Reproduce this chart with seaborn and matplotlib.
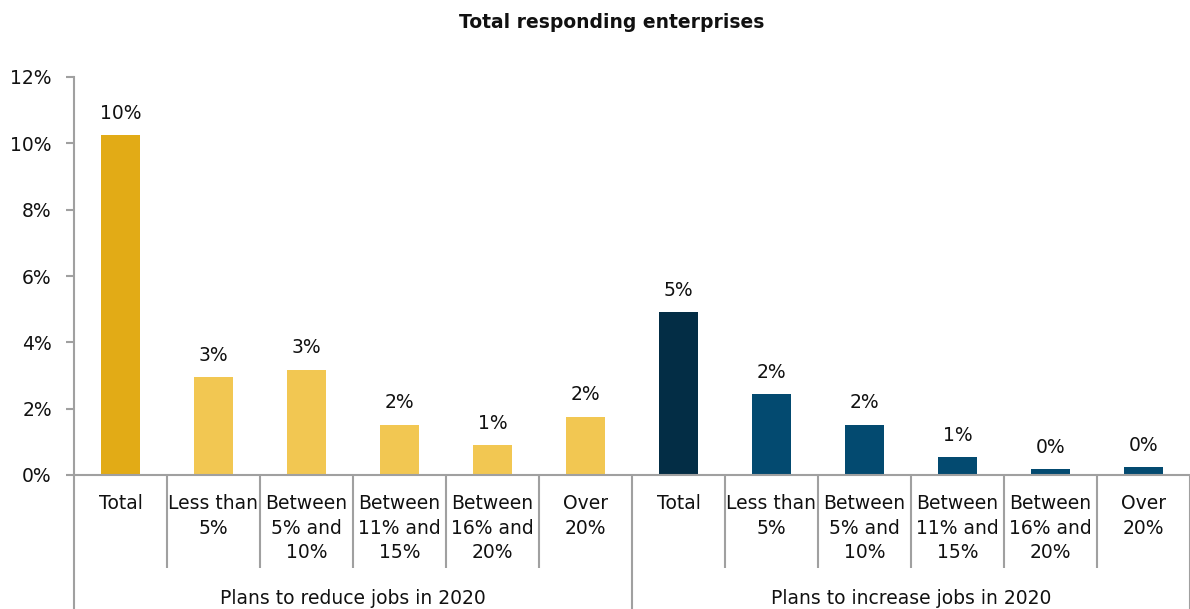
import matplotlib
matplotlib.use("Agg")
import matplotlib.pyplot as plt
import seaborn as sns
import pandas as pd

# Survey results: share of enterprises by planned change in headcount
groups = ["Plans to reduce jobs in 2020", "Plans to increase jobs in 2020"]
categories = ["Total", "Less than\n5%", "Between\n5% and\n10%", "Between\n11% and\n15%",
              "Between\n16% and\n20%", "Over\n20%"]
reduce_values = [10.25, 2.95, 3.17, 1.51, 0.90, 1.75]
increase_values = [4.91, 2.44, 1.51, 0.54, 0.18, 0.24]
colors_reduce = ["#E2AB16", "#F2C752"]
colors_increase = ["#032D45", "#034A70"]

rows = []
for g, vals in zip(groups, [reduce_values, increase_values]):
    for c, v in zip(categories, vals):
        rows.append({"key": f"{g}|{c}", "group": g, "category": c, "value": v})
df = pd.DataFrame(rows)
order = list(df["key"])
palette = {}
for i, k in enumerate(order):
    grp_colors = colors_reduce if i < 6 else colors_increase
    palette[k] = grp_colors[0] if i % 6 == 0 else grp_colors[1]

sns.set_theme(style="white")
plt.rcParams["font.family"] = ["DejaVu Sans"]

FS = 13.5
W, H = 1190, 609
fig = plt.figure(figsize=(W / 100, H / 100), dpi=100)
ax_left, ax_right, ax_top, ax_bot = 74, 1190, 77, 475
ax = fig.add_axes([ax_left / W, 1 - ax_bot / H, (ax_right - ax_left) / W, (ax_bot - ax_top) / H])

sns.barplot(data=df, x="key", y="value", hue="key", order=order, hue_order=order,
            palette=palette, legend=False, width=0.41, saturation=1, linewidth=0, ax=ax)

ax.set_xlim(-0.5, len(order) - 0.5)
ax.set_ylim(0, 12)
ax.set_yticks(range(0, 13, 2))
ax.set_yticklabels([f"{t}%" for t in range(0, 13, 2)], fontsize=FS, color="#111111")
ax.set_xticks([])
ax.set_xlabel("")
ax.set_ylabel("")

spine_color = "#A0A0A0"
for s in ["top", "right"]:
    ax.spines[s].set_visible(False)
ax.spines["left"].set_color(spine_color)
ax.spines["bottom"].set_color(spine_color)
ax.spines["left"].set_linewidth(1.5)
ax.spines["bottom"].set_linewidth(1.5)
ax.tick_params(axis="y", left=True, length=6, width=1.5, color=spine_color, pad=10)

# value labels above bars
for patch, v in zip(ax.patches, df["value"]):
    x = patch.get_x() + patch.get_width() / 2
    ax.annotate(f"{v:.0f}%", (x, v), xytext=(0, 9), textcoords="offset points",
                ha="center", va="bottom", fontsize=FS, color="#111111")

# category axis with grouped labels
xt = ax.get_xaxis_transform()
ax_h = ax_bot - ax_top
inner_depth = -(568 - ax_bot) / ax_h
outer_depth = -(H - ax_bot + 5) / ax_h
for i in range(len(order) + 1):
    x = i - 0.5
    depth = outer_depth if i % 6 == 0 else inner_depth
    ax.plot([x, x], [0, depth], transform=xt, color=spine_color, lw=1.5,
            clip_on=False, solid_capstyle="butt")

for i, c in enumerate(df["category"]):
    ax.text(i, -(494 - ax_bot) / ax_h, c, transform=xt, ha="center", va="top",
            fontsize=FS, color="#111111", linespacing=1.38)

for j, g in enumerate(groups):
    ax.text(j * 6 + 2.5, -(598 - ax_bot) / ax_h, g, transform=xt, ha="center",
            va="center", fontsize=FS, color="#111111")

fig.text(612 / W, 1 - 22 / H, "Total responding enterprises", ha="center", va="center",
         fontsize=FS, fontweight="bold", color="#111111")

fig.savefig("out.png", dpi=100)
